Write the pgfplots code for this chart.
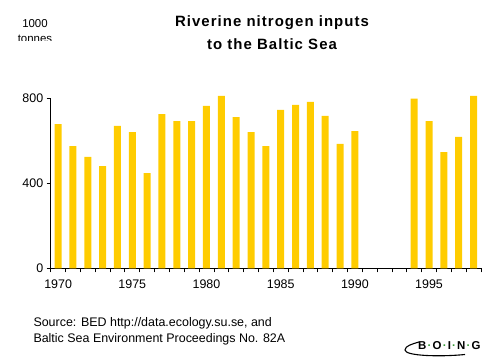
\documentclass[border=0pt]{standalone}
\usepackage{fontspec}
\setmainfont{Liberation Sans}
\usepackage{pgfplots}
\pgfplotsset{compat=1.18}
\definecolor{barc}{HTML}{FFCC00}
\definecolor{dotg}{HTML}{339933}
\newcommand{\gd}{\kern1.2pt{\color{dotg}\textperiodcentered}\kern1.2pt}
\begin{document}
\begin{tikzpicture}
\path[use as bounding box] (0bp,0bp) rectangle (495bp,364bp);
\begin{axis}[
  at={(50.7bp,95.7bp)}, anchor=south west,
  width=430.3bp, height=170bp, scale only axis,
  xmin=1969.5, xmax=1998.5, ymin=0, ymax=800,
  clip=false,
  axis lines*=left,
  x axis line style={-, line width=0.8bp},
  y axis line style={-, line width=0.8bp},
  /pgf/number format/assume math mode=true,
  ticklabel style={font=\fontsize{12.5}{14}\selectfont},
  xticklabel style={/pgf/number format/1000 sep={}, yshift=-3.5bp},
  ytick={0,400,800},
  xtick={1970,1975,...,1995},
  minor xtick={1969.5,1970.5,...,1998.5},
  major x tick style={draw=none},
  tick style={black, line width=0.8bp},
  major tick length=4bp, minor tick length=4bp,
  tick align=outside, tick pos=left,
]
\addplot[ybar, bar width=7bp, fill=barc, draw=none] coordinates {
(1970,679) (1971,575) (1972,524) (1973,481) (1974,670) (1975,641)
(1976,448) (1977,726) (1978,693) (1979,693) (1980,764) (1981,811)
(1982,712) (1983,641) (1984,575) (1985,745) (1986,769) (1987,783)
(1988,717) (1989,585) (1990,646)
(1994,798) (1995,693) (1996,547) (1997,618) (1998,811)
};
\end{axis}
\node[anchor=base, font=\bfseries\fontsize{15}{17}\selectfont\addfontfeature{LetterSpace=7}] at (272bp,337.3bp) {Riverine nitrogen inputs};
\node[anchor=base, font=\bfseries\fontsize{15}{17}\selectfont\addfontfeature{LetterSpace=7}] at (272bp,314bp) {to the Baltic Sea};
\node[anchor=base, font=\fontsize{11.5}{13}\selectfont] at (35bp,336.7bp) {1000};
\begin{scope}
\clip (0bp,323.5bp) rectangle (100bp,364bp);
\node[anchor=base, font=\fontsize{11.5}{13}\selectfont] at (35bp,321bp) {tonnes};
\end{scope}
\node[anchor=base west, inner sep=0pt, font=\fontsize{12.5}{14}\selectfont] at (33.3bp,38bp) {Source: BED http://data.ecology.su.se, and};
\node[anchor=base west, inner sep=0pt, font=\fontsize{12.5}{14}\selectfont] at (33.3bp,21.3bp) {Baltic Sea Environment Proceedings No. 82A};
\node[anchor=base west, inner sep=0pt, font=\bfseries\fontsize{11.5}{13}\selectfont] at (418bp,15bp) {B\gd O\gd I\gd N\gd G};
\draw[line width=1.1bp] (465bp,9.5bp) .. controls (440bp,7bp) and (405bp,8bp) .. (405bp,14bp) .. controls (405bp,18bp) and (412bp,20bp) .. (419bp,22bp);
\end{tikzpicture}
\end{document}
